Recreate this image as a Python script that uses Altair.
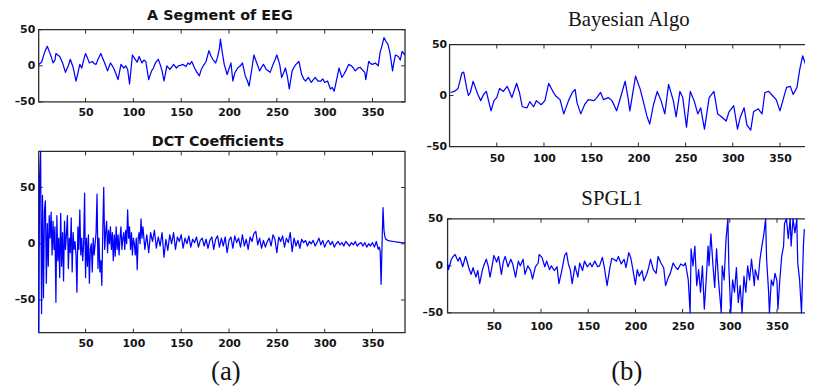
import altair as alt
import pandas as pd

# ---------------- data ----------------
eeg_x = [1, 4, 7, 10, 12, 14, 16, 18, 19, 21, 23, 26, 29, 32, 34, 37, 40, 42, 44, 46,
         48, 50, 52, 54, 57, 59, 61, 63, 66, 68, 70, 73, 76, 78, 80, 82, 84, 87, 90, 92,
         94, 96, 99, 102, 104, 106, 109, 111, 113, 116, 119, 121, 123, 126, 128, 130, 132, 135, 138, 140,
         142, 145, 147, 150, 152, 155, 157, 159, 161, 164, 166, 169, 171, 173, 176, 179, 181, 183, 186, 188,
         190, 191, 193, 195, 198, 200, 202, 204, 206, 209, 212, 214, 217, 219, 221, 224, 226, 229, 232, 234,
         236, 239, 243, 246, 248, 250, 253, 255, 257, 259, 261, 263, 266, 268, 270, 273, 276, 278, 280, 283,
         286, 290, 293, 296, 298, 300, 303, 306, 308, 310, 313, 315, 318, 320, 322, 325, 328, 330, 332, 335,
         337, 339, 342, 343, 346, 348, 350, 353, 356, 358, 360, 362, 364, 366, 368, 369, 371, 372, 374, 377,
         379, 381, 384]
eeg_y = [2, 5, 18, 27, 20, 13, 4, 8, 17, 15, 13, 4, -9, 0, 9, -2, -21, -10, 2, -3,
         8, 17, 11, 4, 6, 3, 2, 9, 17, 10, 4, -7, 4, 0, -5, -12, -19, 2, -3, 0,
         -5, -25, 15, 9, 5, 13, 4, 8, 6, -19, -7, -3, 4, 9, 2, -7, -21, 0, -5, -2,
         2, -3, 0, 1, 2, -1, 4, 2, 6, -3, -8, -14, -5, 0, 6, 21, 14, 9, 4, 12,
         24, 37, 18, 2, -12, -4, 4, -21, -10, -3, 0, 4, -14, -20, -28, -3, 15, 4, -7, -2,
         2, -5, -9, 2, 8, 15, 2, -16, -10, -3, -15, -32, -7, -2, 2, 6, -12, -18, -21, -16,
         -23, -16, -21, -21, -18, -23, -21, -32, -30, -35, -16, -3, -16, -12, -7, 2, 0, -3, -7, -3,
         -2, -5, -9, -19, 6, 3, 2, 4, 0, 19, 28, 39, 34, 30, 20, 11, -7, 2, 15, 13,
         8, 20, 15]

# DCT coefficients 1..110 (one per index)
dct_head = [-79, 60, 82, -62, 43, -48, 30, 38, -35, 18,
            -20, 25, 5, 28, -10, 20, -5, 15, -52, 25,
            -15, 5, -30, 27, -20, 10, -33, 20, -5, 8,
            25, -22, 5, -8, 23, -25, 10, -5, 2, -10,
            -43, 15, -5, 30, -10, 5, -15, 0, 45, -30,
            5, -20, 8, -35, -5, 0, -25, 5, -10, 0,
            10, 44, -22, 5, -25, -15, -37, 10, 50, -5,
            10, 20, -8, 12, 0, 15, -5, 10, -15, 8,
            -11, 15, -5, 8, -10, 5, 15, -5, 5, 10,
            -5, 12, 0, 30, 5, 15, -5, 10, -10, 5,
            0, -10, 5, -23, 5, 10, 0, 22, 5, 15]
# DCT coefficients 112..356, every second index
dct_mid = [-5, 8, -8, 10, 2, 12, -4, 6, -2, 10,
           -12, 4, -6, 8, 0, 10, -5, 6, 2, 8,
           -4, 5, 0, 7, -3, 4, 1, 6, -3, 3,
           5, -2, 4, -4, 3, 6, -5, 4, 7, -3,
           5, -2, 6, -8, 3, 6, -4, 7, 1, 5,
           -3, 8, -2, 4, -5, 6, 2, 9, 11, -1,
           5, -4, 3, -3, 2, 5, -2, 8, 4, -8,
           6, 2, 7, -3, 5, 1, 10, -7, 5, -2,
           3, -4, 4, 1, 3, -2, 2, 0, 3, -2,
           1, 5, -1, 3, -3, 1, 3, -1, 2, -3,
           0, 2, -1, 1, -2, 2, 0, -2, 1, -1,
           2, -2, 0, 1, -2, 1, -3, 0, -2, 1,
           -3, 2, -5]
dct_tail_x = [357, 358, 359, 360, 361, 362, 363, 364, 366, 368, 372, 376, 380, 384]
dct_tail = [-3, -6, -36, 0, 32, 12, 6, 4, 3, 2.5, 2, 1.5, 1, 0.8]

dct_x = list(range(1, 111)) + list(range(112, 357, 2)) + dct_tail_x
dct_y = dct_head + dct_mid + dct_tail

bayes_x = [1, 5, 9, 13, 15, 18, 20, 22, 25, 28, 30, 33, 36, 39, 41, 44, 47, 50, 53, 57,
           61, 63, 66, 71, 74, 77, 82, 85, 89, 92, 97, 101, 105, 110, 113, 117, 121, 126, 130, 133,
           135, 139, 143, 147, 153, 156, 160, 163, 168, 172, 177, 182, 186, 189, 191, 197, 202, 205, 209, 212,
           216, 220, 224, 228, 232, 237, 240, 244, 247, 251, 255, 259, 263, 266, 270, 275, 280, 284, 287, 293,
           296, 301, 305, 308, 312, 315, 319, 322, 327, 331, 334, 338, 341, 346, 350, 353, 357, 361, 364, 368,
           371, 374, 378, 380]
bayes_y = [3, 4, 7, 22, 23, 8, 0, 3, 14, 6, 1, -5, 1, 4, -4, -15, -5, -2, 7, 4,
           9, 5, -2, 12, 3, -11, -12, -6, -11, -5, -9, -5, 12, 3, -1, -4, -18, -5, 3, 6,
           -7, -18, -9, -4, -5, -2, 3, -4, -2, -5, -15, 1, 14, -2, -15, 19, 6, -5, -20, -28,
           -9, 4, -5, -18, 11, -5, -21, 4, -2, -31, 4, -5, -18, -12, -33, -2, 4, -18, -20, -25,
           -16, -10, -33, -21, -12, -29, -34, -16, -13, -18, 3, 4, 1, -4, -15, -5, 8, 9, 1, 8,
           26, 39, 28, 16]

spgl_x = [1, 2, 5, 7, 9, 12, 14, 17, 20, 21, 24, 26, 28, 31, 33, 35, 38, 40, 42, 44,
          46, 48, 50, 53, 55, 58, 60, 62, 65, 68, 70, 73, 76, 78, 81, 83, 86, 89, 91, 94,
          97, 98, 101, 104, 106, 109, 111, 114, 117, 119, 122, 125, 127, 129, 131, 133, 136, 139, 141, 144,
          146, 149, 152, 154, 157, 160, 162, 165, 167, 170, 173, 175, 177, 180, 182, 185, 188, 190, 193, 195,
          197, 200, 202, 204, 207, 209, 212, 214, 216, 219, 222, 224, 227, 230, 232, 235, 237, 240, 243, 245,
          248, 251, 253, 256, 258, 259, 261, 263, 265, 267, 269, 271, 273, 275, 277, 278, 280, 282, 284, 286,
          288, 291, 292, 294, 296, 298, 299, 301, 303, 305, 307, 309, 311, 313, 315, 317, 319, 321, 323, 326,
          327, 330, 332, 334, 336, 338, 339, 341, 342, 344, 346, 348, 350, 351, 353, 355, 357, 358, 360, 362,
          364, 365, 367, 369, 371, 372, 374, 376, 378, 379]
spgl_y = [2, -4, 7, 10, 12, 5, 9, -1, 10, 7, -4, -9, -2, -12, -5, -19, -4, 2, 7, 0,
          -12, -1, 11, 4, 10, -9, 4, 10, -1, 7, 2, -12, 5, 0, 7, -9, 0, -5, -14, -1,
          3, 12, 9, -1, 5, -4, 0, -5, -1, -19, -5, 11, 14, 2, -4, -19, 0, -12, 3, -5,
          5, -1, 3, -1, 5, -1, 0, 9, -1, -21, -2, 8, 7, 5, 10, 2, 7, -2, 14, 9,
          -2, -20, -4, -11, -5, -16, -9, -2, 7, -4, -8, 10, 3, -2, -21, -12, -8, 3, -2, -4,
          2, 0, 3, -15, -60, 18, 0, 21, -21, -4, -28, 0, -46, -15, 21, 0, 34, 3, -23, 18,
          -15, -60, 0, -15, 28, 60, 0, -60, -15, -28, -2, -39, -21, -60, -11, -28, 0, -15, 7, -21,
          -4, -15, 7, 21, 33, 60, 7, -25, -60, -15, -21, -8, -16, -46, -15, 10, 21, 45, 60, 29,
          60, 21, 60, 35, 60, 3, -15, -60, 21, 39]

x_ticks = [50, 100, 150, 200, 250, 300, 350]
y_ticks = [-50, 0, 50]

# ---------------- style / layout ----------------
W, H = 805, 381
BLUE = "#0000ff"
FRAME = "#2b2b2b"
INK = "#141414"
SANS = "DejaVu Sans"
SERIF = "Liberation Serif"
TICK = 4
NEG = "(datum.value < 0 ? '\u2013' : '') + abs(datum.value)"


def panel(xs, ys, xdom, ydom, box, xpad, ypad, clamp=False, open_right=False):
    left, right, top, bottom = box

    def xsc():
        return alt.Scale(domain=xdom, range=[left, right], nice=False, zero=False)

    def ysc():
        return alt.Scale(domain=ydom, range=[bottom, top], nice=False, zero=False, clamp=clamp)

    common = dict(ticks=False, tickSize=0, domain=False, grid=False, labelFont=SANS,
                  labelFontSize=11, labelFontWeight="bold", labelColor=INK,
                  labelOverlap=False, labelFlush=False, title=None)
    xaxis = alt.Axis(orient="bottom", offset=bottom - H, values=x_ticks,
                     labelPadding=xpad, **common)
    yaxis = alt.Axis(orient="left", offset=-left, values=y_ticks, labelExpr=NEG,
                     labelPadding=ypad, **common)

    df = pd.DataFrame({"x": xs, "y": ys})
    line = alt.Chart(df).mark_line(color=BLUE, strokeWidth=1.25, strokeJoin="round").encode(
        x=alt.X("x:Q", scale=xsc(), axis=xaxis),
        y=alt.Y("y:Q", scale=ysc(), axis=yaxis),
    )
    frame = alt.Chart(pd.DataFrame({"k": [0]})).mark_rect(
        fillOpacity=0, stroke=FRAME, strokeWidth=1.3
    ).encode(
        x=alt.value(left), x2=alt.value(right + 10 if open_right else right),
        y=alt.value(top), y2=alt.value(bottom),
    )
    xt = pd.DataFrame({"v": x_ticks})
    yt = pd.DataFrame({"v": y_ticks})
    rs = dict(color=FRAME, strokeWidth=1)
    layers = [
        frame,
        alt.Chart(xt).mark_rule(**rs).encode(
            x=alt.X("v:Q", scale=xsc(), axis=None),
            y=alt.value(bottom), y2=alt.value(bottom - TICK)),
        alt.Chart(xt).mark_rule(**rs).encode(
            x=alt.X("v:Q", scale=xsc(), axis=None),
            y=alt.value(top), y2=alt.value(top + TICK)),
        alt.Chart(yt).mark_rule(**rs).encode(
            y=alt.Y("v:Q", scale=ysc(), axis=None),
            x=alt.value(left), x2=alt.value(left + TICK)),
    ]
    if not open_right:
        layers.append(alt.Chart(yt).mark_rule(**rs).encode(
            y=alt.Y("v:Q", scale=ysc(), axis=None),
            x=alt.value(right), x2=alt.value(right - TICK)))
    layers.append(line)
    return layers


def text(t, x, y, font, size, weight="normal"):
    return alt.Chart(pd.DataFrame({"t": [t]})).mark_text(
        font=font, fontSize=size, fontWeight=weight, color=INK,
        align="center", baseline="alphabetic"
    ).encode(x=alt.value(x), y=alt.value(y), text="t:N")


layers = []
layers += panel(eeg_x, eeg_y, [1, 384], [-50, 50], (31, 401, 20, 93), 5, 4)
layers += panel(dct_x, dct_y, [1, 384], [-79, 82], (31, 401, 143, 326), 5, 4)
layers += panel(bayes_x, bayes_y, [0, 376.5], [-50, 50], (446, 805, 35, 138), 6, 3,
                open_right=True)
layers += panel(spgl_x, spgl_y, [1, 379.7], [-50, 50], (444, 805, 211, 306), 8, 5,
                clamp=True, open_right=True)

layers += [
    text("A Segment of EEG", 214, 10, SANS, 14.5, "bold"),
    text("DCT Coefficients", 212, 137, SANS, 14.5, "bold"),
    text("Bayesian Algo", 627, 16, SERIF, 21),
    text("SPGL1", 610, 197, SERIF, 21),
    text("(a)", 220, 374, SERIF, 27),
    text("(b)", 625, 374, SERIF, 27),
]

chart = alt.layer(*layers).properties(
    width=W, height=H, padding=0, autosize=alt.AutoSizeParams(type="none")
).resolve_scale(
    x="independent", y="independent"
).resolve_axis(
    x="independent", y="independent"
).configure_view(stroke=None)

chart.save("out.html", embed_options={"renderer": "svg", "actions": False})
